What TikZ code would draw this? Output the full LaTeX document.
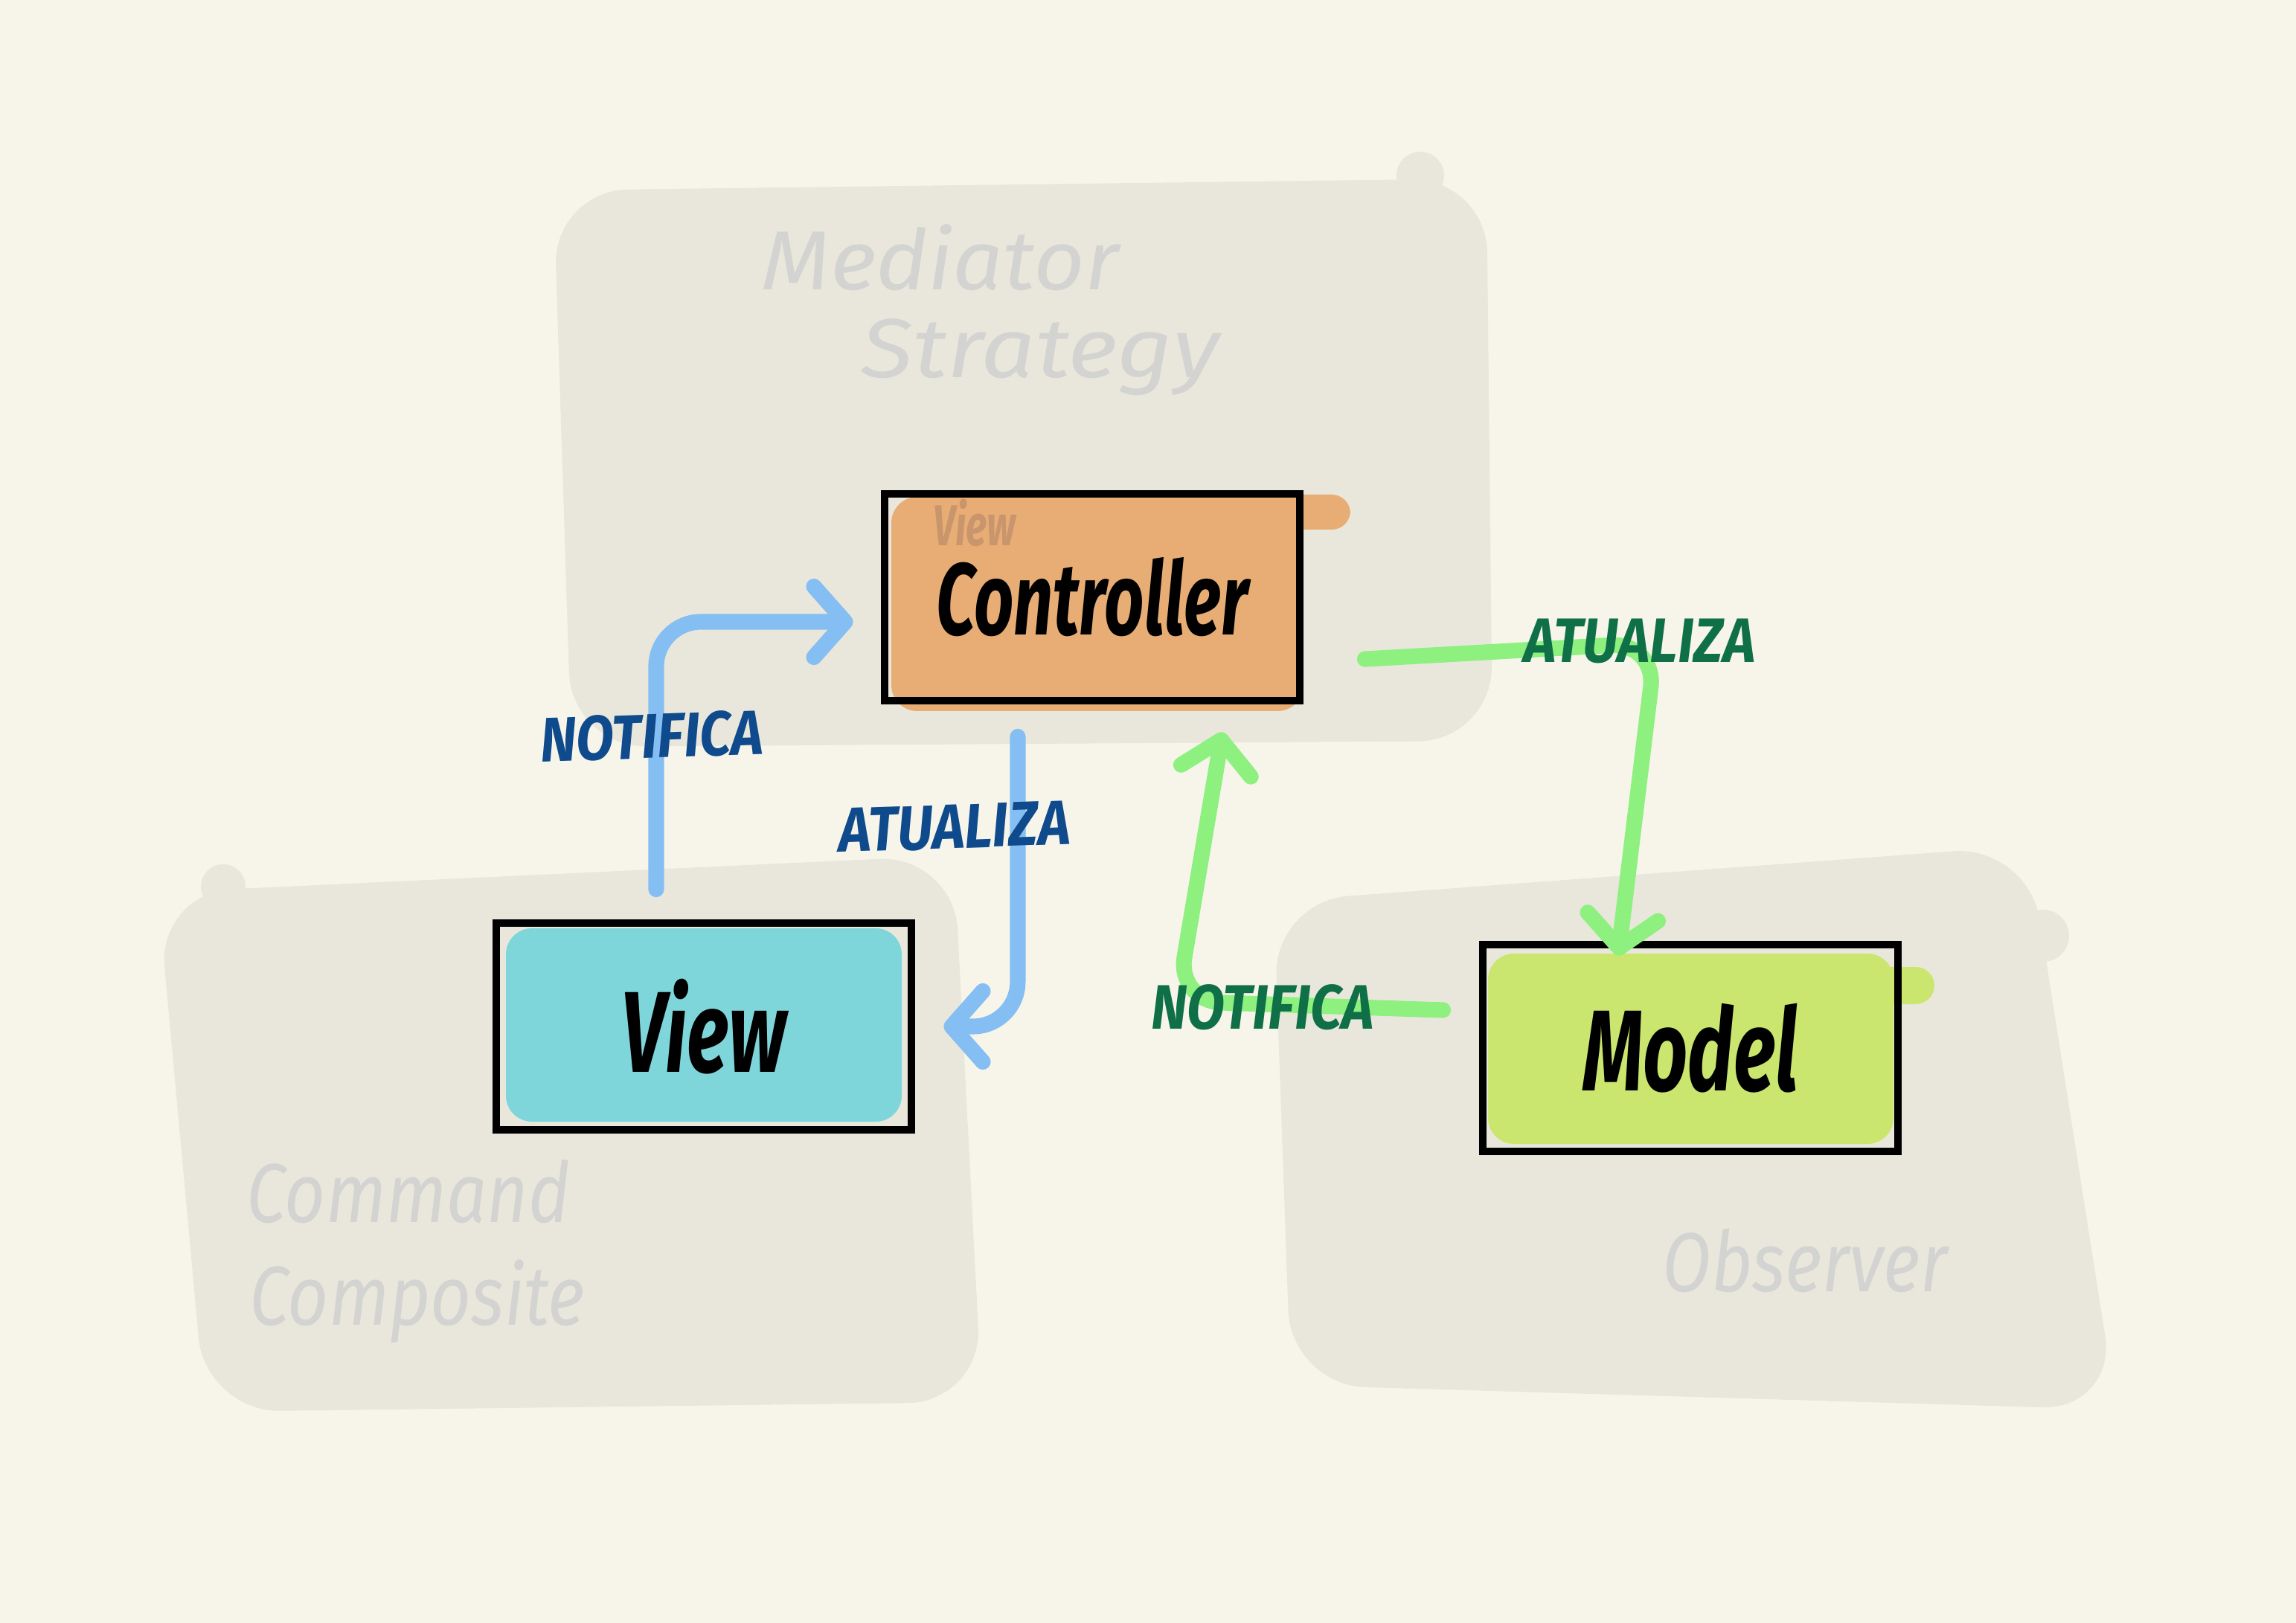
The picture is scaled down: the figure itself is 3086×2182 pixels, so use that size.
\documentclass[tikz,border=0pt]{standalone}
\usepackage{fontspec}
\setmainfont{Fira Sans}
\newfontfamily\handfont[FakeStretch=0.68]{Fira Sans}
\newfontfamily\verbfont[FakeStretch=0.88]{Fira Sans}
\newfontfamily\zonefont[FakeStretch=0.85]{Fira Sans}
\usetikzlibrary{arrows.meta,positioning}

\definecolor{paper}{HTML}{F7F5EA}
\definecolor{zone}{HTML}{E9E7DB}
\definecolor{zonetext}{HTML}{D3D3D1}
\definecolor{ctrlfill}{HTML}{E8AD74}
\definecolor{ctrlhint}{HTML}{C9956D}
\definecolor{viewfill}{HTML}{7FD6DA}
\definecolor{modelfill}{HTML}{CBE66F}
\definecolor{linkblue}{HTML}{85BEF2}
\definecolor{labelblue}{HTML}{0E4A8C}
\definecolor{linkgreen}{HTML}{8DF07F}
\definecolor{labelgreen}{HTML}{0F7048}

\begin{document}
\begin{tikzpicture}[x=0.01cm,y=-0.01cm,
box/.style={draw=black,line width=3pt,minimum width=5.58cm,minimum height=2.78cm,inner sep=0pt},
boxname/.style={font=\handfont\bfseries\itshape\fontsize{44}{48}\selectfont},
zonelabel/.style={text=zonetext,font=\zonefont\itshape\fontsize{32}{36}\selectfont,inner sep=0pt},
link/.style={line width=6pt,line cap=round,line join=round,rounded corners=0.6cm,
  -{Straight Barb[length=0.42cm,width=0.95cm,round]}},
verb/.style={font=\verbfont\bfseries\itshape\fontsize{24}{26}\selectfont,inner sep=0pt}]
\useasboundingbox (0,0) rectangle (3086,2182);
\fill[paper] (0,0) rectangle (3086,2182);

% pattern zones
\fill[zone,rounded corners=1cm] (744,256) -- (1998,240) -- (2006,996) -- (768,1004) -- cycle;
\fill[zone] (1909,236) circle (0.32cm);
\fill[zone,rounded corners=1cm] (212,1200) -- (1282,1150) -- (1320,1885) -- (276,1898) -- cycle;
\fill[zone] (300,1192) circle (0.3cm);
\fill[zone,rounded corners=1cm] (1712,1212) -- (2726,1137) -- (2845,1895) -- (1735,1862) -- cycle;
\fill[zone] (2746,1258) circle (0.35cm);

\node[zonelabel,anchor=base west,xscale=1.25] (med) at (1023,390) {Mediator};
\node[zonelabel,anchor=base west,xscale=1.35] (strat) at (1157,508) {Strategy};
\node[zonelabel,anchor=base west] (cmd) at (331,1643) {Command};
\node[zonelabel,anchor=base west] (comp) at (335,1781) {Composite};
\node[zonelabel,anchor=base west] (obs) at (2234,1736) {Observer};

% highlighter fills
\fill[ctrlfill,rounded corners=0.35cm] (1198,668) rectangle (1752,956);
\fill[ctrlfill,rounded corners=0.25cm] (1700,665) rectangle (1815,712);
\fill[viewfill,rounded corners=0.35cm] (680,1248) rectangle (1212,1508);
\fill[modelfill,rounded corners=0.35cm] (2000,1282) rectangle (2545,1538);
\fill[modelfill,rounded corners=0.25cm] (2500,1300) rectangle (2600,1350);

% components
\node[box,boxname,font=\handfont\bfseries\itshape\fontsize{39}{42}\selectfont] (ctrl) at (1468,803) {Controller};
\node[box,boxname] (view) at (946,1380) {View};
\node[box,boxname] (model) at (2272,1409) {Model};
\node[font=\handfont\bfseries\itshape\fontsize{22}{24}\selectfont,text=ctrlhint,inner sep=0pt] (hint) at (1310,703) {View};

% links
\draw[link,linkblue] ([xshift=-0.64cm,yshift=0.4cm]view.north) |- ([xshift=-0.37cm,yshift=-0.33cm]ctrl.west);
\draw[link,linkblue] ([xshift=-1cm,yshift=-0.43cm]ctrl.south) |- ([xshift=0.38cm]view.east);
\draw[link,linkgreen] ([xshift=0.82cm,yshift=-0.83cm]ctrl.east) -- (2226,864) -- ([xshift=-0.97cm,yshift=-0.2cm]model.north);
\draw[link,linkgreen] ([xshift=-0.48cm,yshift=0.51cm]model.west) -- (1582,1346) -- ([xshift=1.75cm,yshift=-0.37cm]ctrl.south);

\node[verb,text=labelblue,rotate=2] (vnotify) at (876,990) {NOTIFICA};
\node[verb,text=labelblue,rotate=2] (cupdate) at (1283,1112) {ATUALIZA};
\node[verb,text=labelgreen] (mupdate) at (2204,862) {ATUALIZA};
\node[verb,text=labelgreen] (mnotify) at (1697,1354) {NOTIFICA};
\end{tikzpicture}
\end{document}
